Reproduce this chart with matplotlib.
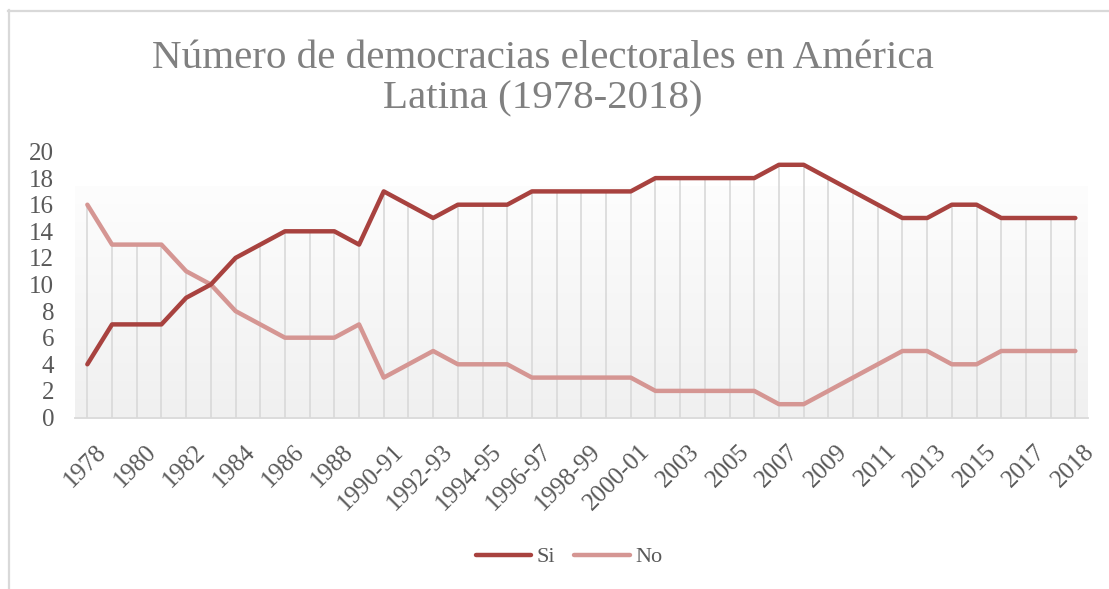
import numpy as np
import matplotlib
matplotlib.use("Agg")
import matplotlib.pyplot as plt
from matplotlib.transforms import ScaledTranslation
from matplotlib.lines import Line2D

# categorías del eje (una por observación)
periodos = ['1978', '1979', '1980', '1981', '1982', '1983', '1984', '1985',
            '1986', '1987', '1988', '1989', '1990-91', '1991-92', '1992-93',
            '1993-94', '1994-95', '1995-96', '1996-97', '1997-98', '1998-99',
            '1999-00', '2000-01', '2002', '2003', '2004', '2005', '2006',
            '2007', '2008', '2009', '2010', '2011', '2012', '2013', '2014',
            '2015', '2016', '2017', '2017-18', '2018']

si = [4, 7, 7, 7, 9, 10, 12, 13, 14, 14, 14, 13, 17, 16, 15, 16, 16, 16, 17,
      17, 17, 17, 17, 18, 18, 18, 18, 18, 19, 19, 18, 17, 16, 15, 15, 16, 16,
      15, 15, 15, 15]
no = [16, 13, 13, 13, 11, 10, 8, 7, 6, 6, 6, 7, 3, 4, 5, 4, 4, 4, 3, 3, 3,
      3, 3, 2, 2, 2, 2, 2, 1, 1, 2, 3, 4, 5, 5, 4, 4, 5, 5, 5, 5]

color_si = '#a8423f'
color_no = '#d59693'
gris_texto = '#595959'
gris_linea = '#d9d9d9'

plt.rcParams['font.family'] = ['Liberation Serif', 'DejaVu Serif']

fig = plt.figure(figsize=(11.09, 5.89), dpi=100)
ax = fig.add_axes([75 / 1109, 1 - 417.5 / 589, 1012.7 / 1109, 266 / 589])

x = np.arange(len(periodos))

# fondo degradado del área de trazado
grad = np.linspace(0, 1, 256).reshape(-1, 1)
c_top = np.array([253, 253, 253]) / 255
c_bot = np.array([240, 240, 240]) / 255
img = c_top + (c_bot - c_top) * grad[:, :, None]
ax.imshow(img, extent=[0, 1, 0, 0.865], transform=ax.transAxes,
          aspect='auto', zorder=0, origin='upper')

# líneas de caída desde el valor más alto de cada año
tope = np.maximum(si, no)
ax.vlines(x, 0, tope, color=gris_linea, lw=1.2, zorder=1)

ax.plot(x, no, color=color_no, lw=3.2, solid_capstyle='round',
        solid_joinstyle='round', zorder=3)
ax.plot(x, si, color=color_si, lw=3.2, solid_capstyle='round',
        solid_joinstyle='round', zorder=4)

ax.set_xlim(-0.5, len(periodos) - 0.5)
ax.set_ylim(0, 20)
ax.set_yticks(range(0, 21, 2))
ax.tick_params(axis='y', length=0, pad=15, labelsize=18, labelcolor=gris_texto)
ax.set_xticks(x[::2])
ax.set_xticklabels(periodos[::2])
ax.tick_params(axis='x', length=0, pad=22, labelsize=18, labelcolor=gris_texto)
desplaza = ScaledTranslation(16 / 100, 0, fig.dpi_scale_trans)
for lbl in ax.get_xticklabels():
    lbl.set_rotation(45)
    lbl.set_ha('right')
    lbl.set_va('center')
    lbl.set_rotation_mode('anchor')
    lbl.set_transform(lbl.get_transform() + desplaza)

for lado in ['top', 'right', 'left']:
    ax.spines[lado].set_visible(False)
ax.spines['bottom'].set_color(gris_linea)
ax.spines['bottom'].set_linewidth(1.3)
ax.patch.set_alpha(0)

fig.text(543 / 1109, 1 - 79 / 589,
         'Número de democracias electorales en América\nLatina (1978-2018)',
         ha='center', va='center', fontsize=29.5, color='#808080',
         linespacing=1.12)

# borde del gráfico
fig.add_artist(Line2D([8.5 / 1109, 8.5 / 1109], [0, 1 - 10 / 589],
                      transform=fig.transFigure, color=gris_linea, lw=1.6))
fig.add_artist(Line2D([8 / 1109, 1], [1 - 10.5 / 589, 1 - 10.5 / 589],
                      transform=fig.transFigure, color=gris_linea, lw=1.6))

manejadores = [Line2D([], [], color=color_si, lw=3.2, solid_capstyle='round'),
               Line2D([], [], color=color_no, lw=3.2, solid_capstyle='round')]
fig.legend(manejadores, ['Si', 'No'], loc='center',
           bbox_to_anchor=(569 / 1109, 1 - 557 / 589), ncol=2, frameon=False,
           fontsize=16, labelcolor=gris_texto, handlelength=2.5,
           handletextpad=0.25, columnspacing=0.85)

fig.savefig('out.png', dpi=100)
